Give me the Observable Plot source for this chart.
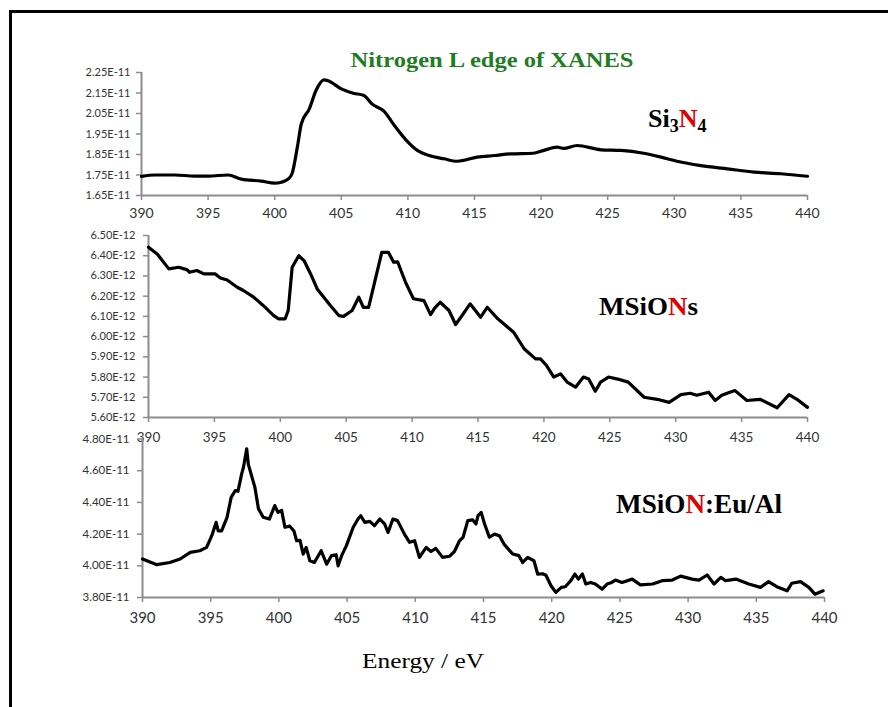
<!DOCTYPE html>
<html><head><meta charset="utf-8">
<script src="https://cdn.jsdelivr.net/npm/d3@7"></script>
<script src="https://cdn.jsdelivr.net/npm/@observablehq/plot@0.6"></script>
<style>
body{margin:0;background:#fff;}
#wrap{position:relative;width:888px;height:707px;overflow:hidden;background:#fff;}
#frame{position:absolute;left:9px;top:10px;width:900px;height:720px;border-left:3px solid #000;border-top:3px solid #000;}
.panel{position:absolute;left:0;}
#overlay{position:absolute;left:0;top:0;}
</style></head><body>
<div id="wrap"><div id="frame"></div></div>
<script>
// ---- data ----
const xTicks = [390,395,400,405,410,415,420,425,430,435,440];
const xTickLabels = ["390","395","400","405","410","415","420","425","430","435","440"];

// Si3N4 (units of 1E-11)
const si3n4Energy = [390,391,392.5,394,395,396.5,397.5,399,400,400.5,401,401.3,401.7,402,402.6,403.1,403.7,404,405,405.9,406.7,407.3,408.2,409,409.9,410.8,411.6,412.7,413.7,415.2,416.5,417.7,419.4,420.2,421.2,421.7,422.7,424.5,426,427.7,429,430.2,432,434,436,438,440];
const si3n4Value = [1.743,1.75,1.75,1.745,1.745,1.75,1.73,1.72,1.71,1.715,1.73,1.756,1.886,2.0,2.073,2.162,2.214,2.21,2.17,2.149,2.138,2.097,2.061,1.99,1.918,1.866,1.845,1.829,1.817,1.837,1.845,1.853,1.856,1.87,1.886,1.88,1.894,1.873,1.87,1.856,1.837,1.817,1.796,1.78,1.764,1.756,1.744];
const si3n4Ticks = [1.65,1.75,1.85,1.95,2.05,2.15,2.25];
const si3n4TickLabels = ["1.65E-11","1.75E-11","1.85E-11","1.95E-11","2.05E-11","2.15E-11","2.25E-11"];

// MSiONs (units of 1E-12)
const msionsEnergy = [390,390.66,391.54,392.3,392.94,393.1,393.67,394.2,395.07,395.45,395.97,396.73,397.2,397.98,398.7,399.5,399.88,400.37,400.6,400.9,401.4,401.8,402.3,402.8,403.3,403.8,404.44,404.8,405.45,405.95,406.3,406.7,407.1,407.7,408.2,408.6,408.9,409.5,410.1,410.9,411.4,411.7,412.13,412.8,413.3,413.7,414.4,415.2,415.7,416.5,417.7,418.5,419.36,419.74,420.2,420.75,421.26,421.76,422.4,423.0,423.4,423.9,424.3,424.9,425.6,426.4,427.6,428.6,429.5,430.4,431.1,431.6,432.5,433.0,433.5,433.9,434.5,435.4,436.4,437.7,438.6,439.2,440];
const msionsValue = [6.442,6.409,6.335,6.343,6.33,6.318,6.327,6.31,6.31,6.29,6.28,6.244,6.228,6.195,6.154,6.104,6.088,6.088,6.129,6.343,6.40,6.376,6.31,6.236,6.195,6.154,6.104,6.10,6.129,6.195,6.145,6.145,6.253,6.417,6.417,6.368,6.37,6.269,6.187,6.178,6.109,6.14,6.17,6.129,6.06,6.096,6.162,6.096,6.145,6.088,6.022,5.94,5.89,5.89,5.857,5.80,5.816,5.775,5.75,5.80,5.79,5.73,5.775,5.80,5.79,5.775,5.70,5.69,5.675,5.713,5.72,5.71,5.725,5.684,5.71,5.72,5.733,5.684,5.69,5.648,5.713,5.69,5.65];
const msionsTicks = [5.6,5.7,5.8,5.9,6.0,6.1,6.2,6.3,6.4,6.5];
const msionsTickLabels = ["5.60E-12","5.70E-12","5.80E-12","5.90E-12","6.00E-12","6.10E-12","6.20E-12","6.30E-12","6.40E-12","6.50E-12"];

// MSiON:Eu/Al (units of 1E-11)
const euAlEnergy = [390,391.05,392.0,392.76,393.5,394.2,394.7,395.08,395.4,395.55,395.8,396.2,396.5,396.8,397.0,397.27,397.4,397.64,397.76,398.24,398.5,398.85,399.3,399.7,399.93,400.2,400.44,400.8,401.1,401.3,401.55,401.78,402.0,402.27,402.6,403.1,403.5,403.85,404.2,404.34,404.6,404.95,405.44,405.8,406.0,406.3,406.66,407.0,407.4,407.75,408.0,408.36,408.7,409.2,409.58,409.95,410.3,410.8,411.15,411.5,412.0,412.5,412.87,413.24,413.5,413.85,414.2,414.45,414.6,414.83,415.08,415.43,415.8,416.17,416.5,417.14,417.6,417.87,418.24,418.7,418.97,419.33,419.58,419.95,420.3,420.7,421.0,421.4,421.7,421.96,422.25,422.5,422.85,423.2,423.7,424.06,424.4,424.67,425.15,425.9,426.5,427.4,428.1,428.84,429.45,430.3,430.8,431.4,431.9,432.4,432.75,433.5,434.45,435.3,435.9,436.5,437.26,437.6,438.24,438.85,439.3,439.9];
const euAlValue = [4.043,4.007,4.021,4.043,4.085,4.095,4.116,4.19,4.274,4.22,4.22,4.306,4.432,4.474,4.47,4.58,4.62,4.738,4.64,4.495,4.36,4.306,4.295,4.38,4.337,4.35,4.243,4.25,4.22,4.158,4.16,4.074,4.116,4.032,4.021,4.095,4.01,4.064,4.07,4.0,4.064,4.127,4.242,4.295,4.316,4.274,4.28,4.253,4.295,4.264,4.21,4.295,4.285,4.2,4.148,4.158,4.053,4.116,4.09,4.11,4.053,4.06,4.09,4.158,4.18,4.285,4.29,4.264,4.316,4.337,4.264,4.18,4.2,4.19,4.137,4.074,4.064,4.021,4.053,4.032,3.948,3.95,3.94,3.874,3.832,3.864,3.868,3.906,3.948,3.916,3.948,3.885,3.895,3.885,3.853,3.885,3.895,3.91,3.895,3.916,3.88,3.885,3.906,3.91,3.935,3.916,3.91,3.942,3.885,3.927,3.906,3.916,3.885,3.864,3.90,3.868,3.842,3.89,3.90,3.864,3.821,3.842];
const euAlTicks = [3.8,4.0,4.2,4.4,4.6,4.8];
const euAlTickLabels = ["3.80E-11","4.00E-11","4.20E-11","4.40E-11","4.60E-11","4.80E-11"];

const titleText = "Nitrogen L edge of XANES";
const xLabelText = "Energy / eV";

// ---- drawing ----
const wrap = document.getElementById("wrap");
const AXIS = "#8c8c8c", TXT = "#333";

function panel(cfg) {
  const data = cfg.E.map((e, i) => ({e, v: cfg.V[i]}));
  const [y0, y1] = [cfg.yTicks[0], cfg.yTicks[cfg.yTicks.length - 1]];
  const chart = Plot.plot({
    width: 888, height: cfg.height,
    marginTop: cfg.mt, marginBottom: cfg.mb, marginLeft: cfg.ml, marginRight: cfg.mr,
    x: {domain: [390, 440], axis: null},
    y: {domain: [y0, y1], axis: null},
    style: {background: "transparent", overflow: "visible", fontFamily: "Lato, 'Open Sans', sans-serif"},
    marks: [
      Plot.ruleX(xTicks, {x: d => d, y1: y0, y2: y0, insetBottom: -5, stroke: AXIS, strokeWidth: 1.5}),
      Plot.ruleY(cfg.yTicks, {y: d => d, x1: 390, x2: 390, insetLeft: -5, stroke: AXIS, strokeWidth: 1.5}),
      Plot.ruleY([y0], {x1: 390, x2: 440, stroke: AXIS, strokeWidth: 2}),
      Plot.ruleX([390], {y1: y0, y2: y1, stroke: AXIS, strokeWidth: 2}),
      Plot.line(data, {x: "e", y: "v", stroke: "#000", strokeWidth: 3.2, strokeLinejoin: "round", strokeLinecap: "round", curve: cfg.curve || "linear"}),
      Plot.text(xTicks, {x: d => d, y: y0, text: (d, i) => xTickLabels[i], dy: cfg.xdy, fontSize: cfg.xFont, fill: TXT}),
      Plot.text(cfg.yTicks, {x: 390, y: d => d, text: (d, i) => cfg.yLabels[i], textAnchor: "end", dx: cfg.ydx, fontSize: cfg.yFont, fill: TXT})
    ]
  });
  chart.classList.add("panel");
  chart.style.top = cfg.top + "px";
  chart.style.position = "absolute";
  chart.style.left = "0px";
  wrap.appendChild(chart);
}

panel({E: si3n4Energy, V: si3n4Value, yTicks: si3n4Ticks, yLabels: si3n4TickLabels, curve: "monotone-x",
  top: 50, height: 170, mt: 22, mb: 25, ml: 141, mr: 81, xFont: 14, yFont: 11, xdy: 18, ydx: -11});
panel({E: msionsEnergy, V: msionsValue, yTicks: msionsTicks, yLabels: msionsTickLabels,
  top: 225, height: 225, mt: 10, mb: 33, ml: 148, mr: 81, xFont: 13.5, yFont: 11, xdy: 20, ydx: -13});
panel({E: euAlEnergy, V: euAlValue, yTicks: euAlTicks, yLabels: euAlTickLabels,
  top: 428, height: 200, mt: 10.5, mb: 31, ml: 142, mr: 64, xFont: 15, yFont: 11.5, xdy: 21, ydx: -13});

// text overlay
const ov = d3.select(wrap).append("svg").attr("id", "overlay").attr("width", 888).attr("height", 707)
  .style("font-family", "'Liberation Serif', 'DejaVu Serif', serif");
ov.append("text").attr("x", 492).attr("y", 66.5).attr("text-anchor", "middle")
  .attr("font-weight", "bold").attr("font-size", 22).attr("fill", "#1e7d1e")
  .attr("textLength", 283).attr("lengthAdjust", "spacingAndGlyphs").text(titleText);

const s = ov.append("text").attr("x", 648).attr("y", 127).attr("font-weight", "bold").attr("font-size", 26).attr("fill", "#000");
s.append("tspan").text("Si");
s.append("tspan").attr("dy", 5).attr("font-size", 18).text("3");
s.append("tspan").attr("dy", -5).attr("fill", "#e00000").text("N");
s.append("tspan").attr("dy", 5).attr("font-size", 18).text("4");

const m = ov.append("text").attr("x", 599).attr("y", 315).attr("font-weight", "bold").attr("font-size", 26).attr("fill", "#000")
  .attr("textLength", 99).attr("lengthAdjust", "spacingAndGlyphs");
m.append("tspan").text("MSiO");
m.append("tspan").attr("fill", "#e00000").text("N");
m.append("tspan").text("s");

const m2 = ov.append("text").attr("x", 616).attr("y", 512.5).attr("font-weight", "bold").attr("font-size", 27).attr("fill", "#000")
  .attr("textLength", 166).attr("lengthAdjust", "spacingAndGlyphs");
m2.append("tspan").text("MSiO");
m2.append("tspan").attr("fill", "#e00000").text("N");
m2.append("tspan").text(":Eu/Al");

ov.append("text").attr("x", 423).attr("y", 668).attr("text-anchor", "middle").attr("font-size", 22).attr("fill", "#000")
  .attr("textLength", 122).attr("lengthAdjust", "spacingAndGlyphs").text(xLabelText);
</script>
</body></html>
